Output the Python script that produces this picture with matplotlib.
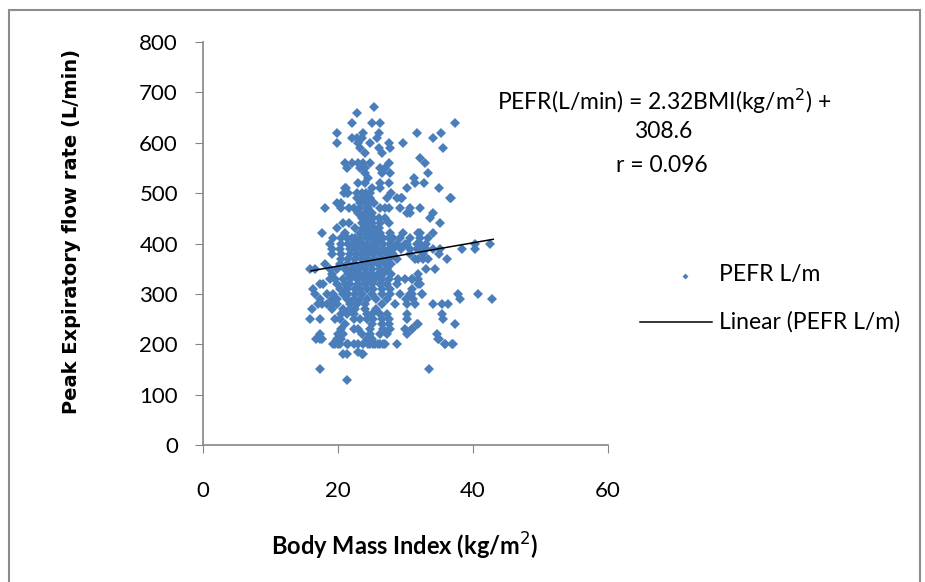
import numpy as np
import matplotlib
matplotlib.use("Agg")
import matplotlib.pyplot as plt
from matplotlib.patches import Rectangle
from matplotlib.lines import Line2D

# PEFR values (L/min), each with the BMI values seen on that row
pefr_levels = [670, 660, 640, 620, 610, 600, 590, 580, 570, 560, 550, 540, 530,
               520, 510, 500, 490, 480, 470, 460, 450, 440, 430, 420, 410, 400,
               390, 380, 370, 360, 350, 340, 330, 320, 310, 300, 290, 280, 270,
               260, 250, 240, 230, 220, 210, 200, 185, 180, 150, 130]
bmi_rows = [
    [25.3],
    [22.8],
    [22.1, 25.0, 26.2, 37.3],
    [19.9, 23.7, 26.1, 31.7, 35.3],
    [22.0, 22.8, 23.5, 25.8, 34.1],
    [19.9, 23.0, 24.7, 27.5, 29.7],
    [23.3, 26.0, 27.7, 35.5],
    [24.0, 26.5],
    [32.1],
    [21.0, 22.0, 23.0, 23.7, 24.8, 27.5, 32.9],
    [21.3, 23.3, 24.0, 26.2, 27.0],
    [24.0, 26.5, 27.7, 33.3],
    [24.5, 31.3],
    [23.0, 24.0, 26.2, 27.5, 31.4, 32.7],
    [21.1, 21.2, 25.0, 26.2, 30.2, 34.9],
    [20.9, 21.3, 21.5, 22.8, 23.5, 24.2, 24.8, 27.9],
    [22.8, 23.8, 24.8, 27.3, 28.8, 29.4, 29.5, 36.6, 36.7],
    [19.8, 20.5, 23.3, 24.0, 24.7, 25.3],
    [18.1, 20.5, 21.7, 22.3, 23.2, 24.4, 26.2, 27.0, 27.5, 29.2, 30.7, 32.1],
    [23.0, 24.0, 25.0, 30.2, 30.7, 34.1],
    [23.5, 24.4, 25.2, 26.0, 27.0, 33.6],
    [20.8, 21.7, 23.5, 24.3, 25.0, 26.2, 27.5, 35.1],
    [19.8, 22.5, 23.7, 24.5, 25.3, 26.0],
    [17.7, 21.0, 23.3, 24.0, 24.7, 25.5, 26.2, 27.7, 29.7, 31.9, 32.1, 34.1],
    [19.3, 20.5, 21.3, 22.0, 22.5, 23.3, 24.3, 25.0, 25.5, 26.2, 26.7, 27.5,
     28.2, 29.2, 30.7, 32.1, 33.4],
    [18.8, 20.5, 21.5, 22.3, 23.0, 23.7, 24.5, 25.2, 25.9, 26.7, 27.7, 28.7,
     29.9, 30.2, 31.7, 32.1, 33.1, 40.3, 42.5],
    [19.1, 20.3, 21.8, 22.5, 23.5, 24.3, 25.0, 25.7, 26.7, 27.5, 28.2, 29.4,
     30.7, 31.7, 32.6, 33.1, 34.1, 35.1, 38.3, 40.3],
    [19.1, 20.5, 21.8, 22.8, 23.5, 24.3, 25.2, 26.2, 27.2, 28.2, 30.7, 32.6,
     34.9],
    [20.5, 21.5, 22.5, 23.5, 24.5, 25.5, 26.5, 27.5, 28.7, 31.4, 31.9, 32.6,
     33.4, 36.1],
    [18.1, 20.3, 21.3, 22.3, 23.5, 24.3, 25.0, 25.9, 27.0, 27.9],
    [15.9, 16.6, 18.8, 19.8, 21.0, 22.0, 23.0, 24.0, 25.0, 26.2, 27.2, 33.1,
     34.3],
    [19.1, 21.5, 22.3, 23.3, 24.3, 25.0, 25.9, 26.7, 27.9, 31.9],
    [18.8, 19.6, 20.8, 21.8, 22.8, 23.7, 24.5, 25.5, 26.5, 27.5, 28.9, 29.9,
     30.9, 31.0, 31.9],
    [17.3, 17.8, 19.8, 21.0, 21.8, 23.0, 24.0, 25.0, 26.2, 27.2, 28.7, 31.9,
     32.2],
    [16.3, 20.3, 21.3, 22.5, 23.3, 24.3, 25.2, 26.5, 27.7, 30.9],
    [16.6, 18.3, 19.3, 20.8, 21.5, 22.5, 23.5, 25.0, 26.5, 27.7, 29.2, 30.7,
     30.9, 32.4, 32.5, 37.8, 40.8],
    [17.3, 19.1, 19.8, 21.3, 22.3, 23.3, 24.3, 25.7, 27.2, 30.0, 31.1, 38.1,
     42.8],
    [17.1, 17.6, 18.3, 18.8, 19.3, 19.8, 21.8, 22.8, 24.0, 26.5, 28.4, 30.2,
     31.4, 34.1, 35.4, 36.3],
    [16.1, 19.1, 20.8, 21.8, 22.5, 24.0, 25.7],
    [20.5, 21.3, 22.3, 24.3, 25.0, 26.2, 27.2, 30.2, 35.4],
    [15.9, 17.3, 19.6, 20.3, 22.3, 23.3, 24.3, 25.2, 26.5, 27.5, 30.2, 35.6],
    [21.0, 25.0, 26.5, 27.5, 31.7, 31.8, 37.4],
    [20.5, 22.3, 23.0, 24.7, 26.7, 27.7, 29.9, 30.9, 31.0],
    [17.3, 20.0, 20.8, 23.5, 24.7, 26.2, 27.2, 30.2, 34.6],
    [16.8, 17.3, 17.6, 19.8, 20.5, 24.3, 25.0, 34.8, 34.9],
    [19.3, 19.6, 20.0, 20.3, 21.3, 21.5, 22.3, 23.0, 23.7, 24.5, 24.7, 25.2,
     25.5, 25.9, 26.2, 26.7, 27.0, 28.7, 35.8, 35.9, 36.9, 37.1],
    [23.0],
    [20.8, 21.3, 23.5, 23.7],
    [17.4, 33.5],
    [21.4],
]

bmi = [b for row in bmi_rows for b in row]
pefr = [p for p, row in zip(pefr_levels, bmi_rows) for _ in row]

# fitted line printed on the chart
slope, intercept = 2.32, 308.6
fit_x = np.array([16.0, 43.0])

blue = '#4a7ebb'
fig = plt.figure(figsize=(9.25, 5.82), dpi=100)
plt.rcParams['font.family'] = ['Lato', 'DejaVu Sans']

ax = fig.add_axes([203 / 925, 137 / 582, 405 / 925, 403 / 582])
ax.plot(bmi, pefr, linestyle='none', marker='D', markersize=4.8,
        color=blue, markeredgewidth=0)
ax.plot(fit_x, slope * fit_x + intercept, color='black', linewidth=1.1)

ax.set_xlim(0, 60)
ax.set_ylim(0, 800)
ax.set_xticks([0, 20, 40, 60])
ax.set_yticks(range(0, 801, 100))
for s in ['top', 'right']:
    ax.spines[s].set_visible(False)
for s in ['left', 'bottom']:
    ax.spines[s].set_color('#868686')
    ax.spines[s].set_linewidth(1.2)
ax.tick_params(axis='y', direction='out', length=6, color='#868686',
               labelsize=16, pad=12)
ax.tick_params(axis='x', direction='out', length=6, color='#868686',
               labelsize=16, pad=20)

ax.set_xlabel('Body Mass Index (kg/m$^2$)', fontsize=17, fontweight='bold')
ax.xaxis.set_label_coords(0.497, -0.213)
ax.set_ylabel('Peak Expiratory flow rate (L/min)', fontsize=14,
              fontweight='bold', family='DejaVu Sans')
ax.yaxis.set_label_coords(-0.30, 0.53)

fs = 16.5
fig.text(497 / 925, 1 - 101 / 582, 'PEFR(L/min) = 2.32BMI(kg/m$^2$) +',
         fontsize=fs, ha='left', va='center')
fig.text(663 / 925, 1 - 131 / 582, '308.6', fontsize=fs, ha='center',
         va='center')
fig.text(662 / 925, 1 - 166 / 582, 'r = 0.096', fontsize=fs, ha='center',
         va='center')

# legend drawn by hand to match placement
fig.add_artist(Line2D([685 / 925], [1 - 276 / 582], marker='D', markersize=3,
                      color=blue, markeredgewidth=0,
                      transform=fig.transFigure))
fig.text(719 / 925, 1 - 275 / 582, 'PEFR L/m', fontsize=fs, va='center')
fig.add_artist(Line2D([640 / 925, 712 / 925], [1 - 322 / 582] * 2,
                      color='black', linewidth=1.1, transform=fig.transFigure))
fig.text(719 / 925, 1 - 322 / 582, 'Linear (PEFR L/m)', fontsize=fs,
         va='center')

fig.add_artist(Rectangle((9 / 925, -10 / 582), 911 / 925, 582 / 582,
                         fill=False, edgecolor='#8c8c8c', linewidth=1.5,
                         transform=fig.transFigure))

fig.savefig('out.png', dpi=100)
